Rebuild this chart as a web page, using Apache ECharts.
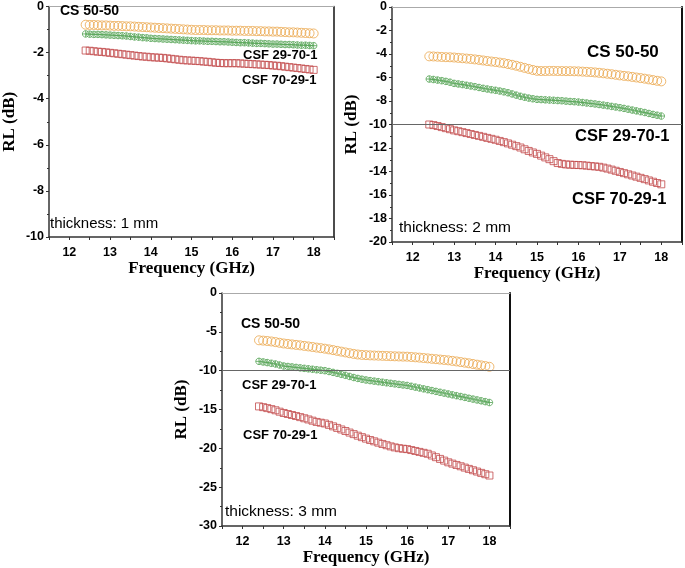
<!DOCTYPE html>
<html>
<head>
<meta charset="utf-8">
<script src="https://cdn.jsdelivr.net/npm/echarts@6/dist/echarts.min.js"></script>
<style>
html,body{margin:0;padding:0;background:#fff;}
#c{width:685px;height:568px;}
</style>
</head>
<body>
<div id="c"></div>
<script>
// Frequency (GHz)
const freq = [12.4,12.5,12.6,12.7,12.8,12.9,
  13.0,13.1,13.2,13.3,13.4,13.5,13.6,13.7,13.8,13.9,
  14.0,14.1,14.2,14.3,14.4,14.5,14.6,14.7,14.8,14.9,
  15.0,15.1,15.2,15.3,15.4,15.5,15.6,15.7,15.8,15.9,
  16.0,16.1,16.2,16.3,16.4,16.5,16.6,16.7,16.8,16.9,
  17.0,17.1,17.2,17.3,17.4,17.5,17.6,17.7,17.8,17.9,
  18.0];

const seriesNames = ['CS 50-50','CSF 29-70-1','CSF 70-29-1'];
const thicknessLabels = ['thickness: 1 mm','thickness: 2 mm','thickness: 3 mm'];

// thickness 1 mm
const cs_1mm = [-0.79,-0.80,-0.80,-0.81,-0.82,-0.82,
  -0.83,-0.84,-0.84,-0.85,-0.86,-0.86,-0.87,-0.88,-0.89,-0.90,
  -0.91,-0.92,-0.93,-0.94,-0.95,-0.96,-0.97,-0.98,-0.99,-1.00,
  -1.01,-1.02,-1.02,-1.02,-1.03,-1.03,-1.03,-1.04,-1.04,-1.04,
  -1.05,-1.05,-1.05,-1.06,-1.06,-1.06,-1.07,-1.07,-1.08,-1.08,
  -1.09,-1.09,-1.10,-1.11,-1.12,-1.12,-1.13,-1.14,-1.15,-1.16,
  -1.17];
const csf2970_1mm = [-1.19,-1.20,-1.21,-1.21,-1.22,-1.23,
  -1.24,-1.25,-1.26,-1.27,-1.28,-1.30,-1.32,-1.33,-1.35,-1.36,
  -1.38,-1.39,-1.40,-1.41,-1.42,-1.43,-1.44,-1.45,-1.46,-1.47,
  -1.48,-1.49,-1.49,-1.50,-1.51,-1.51,-1.52,-1.53,-1.53,-1.54,
  -1.55,-1.56,-1.57,-1.57,-1.58,-1.59,-1.60,-1.60,-1.61,-1.62,
  -1.63,-1.63,-1.64,-1.65,-1.65,-1.66,-1.67,-1.68,-1.68,-1.69,
  -1.70];
const csf7029_1mm = [-1.91,-1.92,-1.94,-1.96,-1.97,-1.99,
  -2.01,-2.03,-2.05,-2.07,-2.09,-2.11,-2.13,-2.15,-2.17,-2.18,
  -2.20,-2.21,-2.22,-2.23,-2.25,-2.27,-2.29,-2.31,-2.33,-2.34,
  -2.35,-2.36,-2.37,-2.39,-2.40,-2.42,-2.44,-2.45,-2.46,-2.46,
  -2.46,-2.46,-2.47,-2.48,-2.49,-2.50,-2.51,-2.52,-2.53,-2.54,
  -2.56,-2.57,-2.59,-2.61,-2.63,-2.65,-2.67,-2.69,-2.71,-2.73,
  -2.75];

// thickness 2 mm
const cs_2mm = [-4.20,-4.21,-4.23,-4.25,-4.27,-4.28,
  -4.30,-4.33,-4.36,-4.39,-4.42,-4.46,-4.50,-4.55,-4.60,-4.64,
  -4.68,-4.73,-4.78,-4.85,-4.92,-5.00,-5.09,-5.18,-5.27,-5.36,
  -5.43,-5.45,-5.45,-5.44,-5.44,-5.45,-5.45,-5.46,-5.46,-5.47,
  -5.48,-5.50,-5.52,-5.54,-5.57,-5.60,-5.64,-5.68,-5.72,-5.77,
  -5.82,-5.86,-5.90,-5.95,-6.00,-6.05,-6.10,-6.16,-6.22,-6.28,
  -6.33];
const csf2970_2mm = [-6.13,-6.17,-6.22,-6.27,-6.33,-6.40,
  -6.50,-6.55,-6.60,-6.66,-6.72,-6.78,-6.85,-6.92,-6.98,-7.04,
  -7.09,-7.15,-7.22,-7.30,-7.40,-7.50,-7.60,-7.68,-7.75,-7.81,
  -7.86,-7.88,-7.90,-7.92,-7.94,-7.96,-7.98,-8.01,-8.04,-8.06,
  -8.09,-8.13,-8.17,-8.21,-8.25,-8.30,-8.35,-8.40,-8.46,-8.51,
  -8.57,-8.63,-8.70,-8.77,-8.84,-8.91,-8.98,-9.06,-9.14,-9.21,
  -9.28];
const csf7029_2mm = [-10.00,-10.05,-10.13,-10.22,-10.31,-10.40,
  -10.50,-10.57,-10.65,-10.73,-10.81,-10.89,-10.97,-11.05,-11.14,-11.22,
  -11.30,-11.40,-11.50,-11.61,-11.72,-11.84,-11.96,-12.11,-12.25,-12.38,
  -12.50,-12.65,-12.80,-12.95,-13.12,-13.28,-13.35,-13.40,-13.42,-13.44,
  -13.45,-13.47,-13.50,-13.54,-13.57,-13.60,-13.67,-13.75,-13.84,-13.94,
  -14.04,-14.14,-14.24,-14.34,-14.44,-14.54,-14.65,-14.76,-14.87,-14.98,
  -15.09];

// thickness 3 mm
const cs_3mm = [-6.09,-6.13,-6.18,-6.24,-6.32,-6.41,
  -6.50,-6.56,-6.62,-6.68,-6.74,-6.81,-6.88,-6.95,-7.03,-7.10,
  -7.17,-7.26,-7.35,-7.45,-7.55,-7.65,-7.75,-7.84,-7.92,-7.97,
  -8.00,-8.03,-8.05,-8.07,-8.09,-8.11,-8.13,-8.15,-8.17,-8.19,
  -8.20,-8.24,-8.28,-8.32,-8.37,-8.42,-8.47,-8.52,-8.57,-8.62,
  -8.67,-8.74,-8.81,-8.89,-8.97,-9.05,-9.14,-9.23,-9.32,-9.41,
  -9.50];
const csf2970_3mm = [-8.80,-8.88,-8.96,-9.05,-9.14,-9.27,
  -9.40,-9.46,-9.52,-9.58,-9.64,-9.70,-9.76,-9.82,-9.88,-9.94,
  -10.00,-10.11,-10.22,-10.34,-10.47,-10.60,-10.74,-10.88,-11.00,-11.10,
  -11.20,-11.28,-11.35,-11.42,-11.49,-11.56,-11.63,-11.70,-11.77,-11.84,
  -11.90,-12.01,-12.12,-12.23,-12.34,-12.45,-12.56,-12.67,-12.78,-12.89,
  -13.00,-13.11,-13.22,-13.33,-13.44,-13.55,-13.66,-13.77,-13.88,-13.99,
  -14.10];
const csf7029_3mm = [-14.60,-14.70,-14.82,-14.95,-15.10,-15.28,
  -15.45,-15.58,-15.71,-15.84,-15.98,-16.13,-16.28,-16.44,-16.60,-16.70,
  -16.80,-16.98,-17.17,-17.37,-17.57,-17.77,-17.97,-18.17,-18.37,-18.56,
  -18.75,-18.93,-19.10,-19.27,-19.44,-19.60,-19.75,-19.88,-19.98,-20.05,
  -20.10,-20.22,-20.34,-20.46,-20.58,-20.70,-20.92,-21.14,-21.36,-21.58,
  -21.80,-21.97,-22.14,-22.31,-22.48,-22.65,-22.82,-22.99,-23.16,-23.33,
  -23.50];

// axis settings per panel
const xMin = 11.5, xMax = 18.5, xStep = 0.5;
const yMins = [-10, -20, -30];
const yMaxs = [0, 0, 0];
const ySteps = [2, 2, 5];
const refLines = [null, -10, -10];

const panels = [
  [cs_1mm, csf2970_1mm, csf7029_1mm],
  [cs_2mm, csf2970_2mm, csf7029_2mm],
  [cs_3mm, csf2970_3mm, csf7029_3mm]
];

const grids = [
  {left: 47, top: 6, width: 287, height: 231},
  {left: 392, top: 7, width: 291, height: 235},
  {left: 222, top: 293, width: 288, height: 233}
];

const colors = ['#EBA84E', '#52A352', '#C2484A'];
const crossCircle = 'path://M10,0C10,5.52 5.52,10 0,10C-5.52,10 -10,5.52 -10,0C-10,-5.52 -5.52,-10 0,-10C5.52,-10 10,-5.52 10,0ZM-10,0L10,0M0,-10L0,10';
const symbols = ['circle', crossCircle, 'rect'];
const symbolSizes = [9, 6.5, 7];

const tickFont = {fontFamily: 'Liberation Sans, Arial, sans-serif', fontWeight: 'bold', fontSize: 12.5, color: '#000'};
const nameFont = {fontFamily: 'Liberation Serif, Times New Roman, serif', fontWeight: 'bold', fontSize: 17, color: '#000'};

const xAxes = [], yAxes = [], series = [];
panels.forEach((p, i) => {
  xAxes.push({
    type: 'value', gridIndex: i, min: xMin, max: xMax, interval: xStep,
    name: 'Frequency (GHz)', nameLocation: 'middle', nameGap: 23, nameTextStyle: nameFont,
    axisLine: {show: true, onZero: false, lineStyle: {color: '#333', width: 1.5}},
    axisTick: {show: true, inside: false, length: 3, lineStyle: {color: '#333', width: 1}},
    axisLabel: Object.assign({margin: 9, formatter: v => (Math.abs(v - Math.round(v)) < 1e-6 ? String(Math.round(v)) : '')}, tickFont),
    splitLine: {show: false}
  });
  xAxes.push({
    type: 'value', gridIndex: i, position: 'top', min: xMin, max: xMax,
    axisLine: {show: true, onZero: false, lineStyle: {color: '#aaa', width: 1}},
    axisTick: {show: false}, axisLabel: {show: false}, splitLine: {show: false}
  });
  yAxes.push({
    type: 'value', gridIndex: i, min: yMins[i], max: yMaxs[i], interval: ySteps[i],
    name: 'RL (dB)', nameLocation: 'middle', nameGap: i === 0 ? 31 : 32, nameTextStyle: nameFont,
    axisLine: {show: true, onZero: false, lineStyle: {color: '#333', width: 1.5}},
    axisTick: {show: true, inside: false, length: 3, lineStyle: {color: '#333', width: 1}},
    minorTick: {show: true, splitNumber: 2, length: 2, lineStyle: {color: '#333', width: 1}},
    axisLabel: Object.assign({margin: 5}, tickFont),
    splitLine: {show: false}
  });
  yAxes.push({
    type: 'value', gridIndex: i, position: 'right', min: yMins[i], max: yMaxs[i],
    axisLine: {show: true, onZero: false, lineStyle: {color: '#111', width: i === 0 ? 1.5 : 2}},
    axisTick: {show: false}, axisLabel: {show: false}, splitLine: {show: false}
  });
  p.forEach((vals, k) => {
    const s = {
      type: 'scatter', name: seriesNames[k],
      xAxisIndex: i * 2, yAxisIndex: i * 2,
      symbol: symbols[k], symbolSize: symbolSizes[k],
      itemStyle: {color: 'rgba(0,0,0,0)', borderColor: colors[k], borderWidth: 1},
      emphasis: {disabled: true},
      data: freq.map((f, j) => [f, vals[j]]),
      z: 3
    };
    if (k === 0 && refLines[i] !== null) {
      s.markLine = {
        silent: true, symbol: 'none', label: {show: false},
        lineStyle: {color: '#666', width: 1, type: 'solid'},
        data: [{yAxis: refLines[i]}]
      };
    }
    series.push(s);
  });
});

function txt(x, y, text, size, bold) {
  return {
    type: 'text', left: x, top: y - size * 0.6,
    style: {text: text, fill: '#000', font: (bold ? 'bold ' : '') + size + 'px "Liberation Sans", Arial, sans-serif'},
    z: 10
  };
}
const graphics = [
  txt(60, 13, seriesNames[0], 14, true),
  txt(243, 57, seriesNames[1], 13, true),
  txt(242, 82, seriesNames[2], 13, true),
  txt(50, 225, thicknessLabels[0], 15, false),

  txt(587, 54, seriesNames[0], 17, true),
  txt(575, 138, seriesNames[1], 16.5, true),
  txt(572, 201, seriesNames[2], 16.5, true),
  txt(399, 229, thicknessLabels[1], 15.5, false),

  txt(241, 326, seriesNames[0], 14, true),
  txt(242, 387, seriesNames[1], 13, true),
  txt(243, 437, seriesNames[2], 13, true),
  txt(225, 513, thicknessLabels[2], 15.5, false)
];

const chart = echarts.init(document.getElementById('c'), null, {renderer: 'canvas'});
chart.setOption({
  animation: false,
  backgroundColor: '#fff',
  grid: grids,
  xAxis: xAxes,
  yAxis: yAxes,
  series: series,
  graphic: graphics
});
</script>
</body>
</html>
